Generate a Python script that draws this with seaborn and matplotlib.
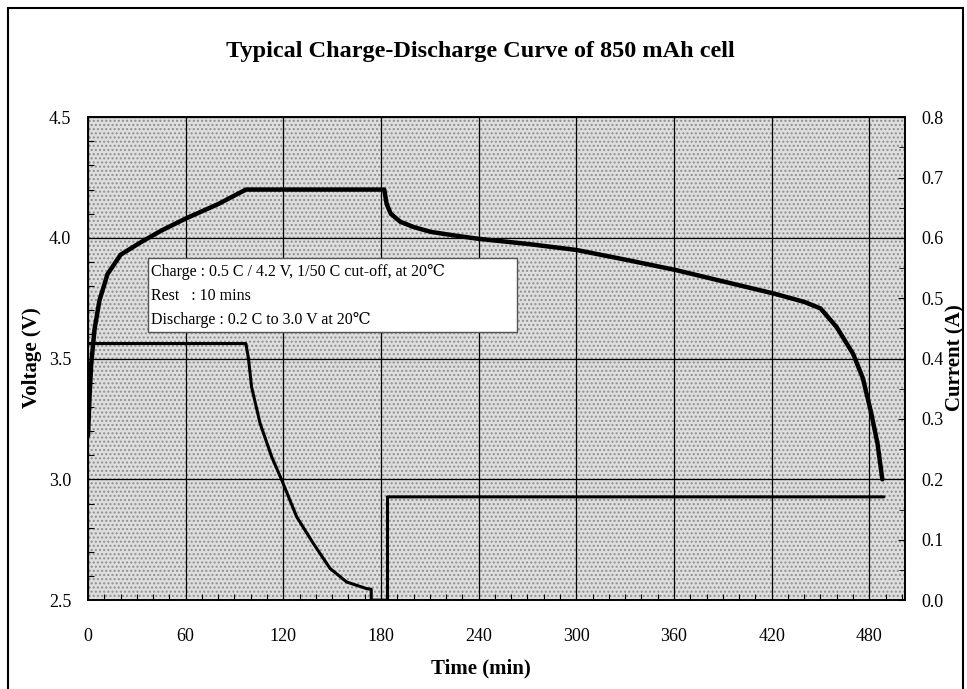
import matplotlib
matplotlib.use("Agg")
import matplotlib.pyplot as plt
import matplotlib.patches as mpatches
from matplotlib.ticker import MultipleLocator, FormatStrFormatter
import pandas as pd
import seaborn as sns

# voltage curve (min, V)
volt_time = [0, 1, 2, 4, 7, 12, 20, 32, 45, 60, 80, 97, 182, 183.5, 186, 191.8, 200,
             210.5, 225, 240, 270, 300, 330, 361, 390, 421, 440, 450, 460, 470, 476,
             481, 485, 488]
volt_vals = [3.18, 3.35, 3.48, 3.62, 3.74, 3.85, 3.93, 3.98, 4.03, 4.08, 4.14, 4.2, 4.2,
             4.14, 4.1, 4.067, 4.045, 4.025, 4.01, 3.996, 3.975, 3.95, 3.91, 3.867, 3.82,
             3.77, 3.735, 3.708, 3.63, 3.52, 3.42, 3.28, 3.15, 3.0]

# current curve (min, A)
curr_time = [0, 97, 98.6, 100.5, 105.7, 112.9, 119.0, 128.2, 138.4, 148.7, 158.9, 171.2,
             174, 174, 184, 184, 489]
curr_vals = [0.425, 0.425, 0.40, 0.353, 0.293, 0.237, 0.199, 0.138, 0.094, 0.0525, 0.030,
             0.019, 0.018, 0.0, 0.0, 0.171, 0.171]

x_ticks = [0, 60, 120, 180, 240, 300, 360, 420, 480]
note_lines = ["Charge : 0.5 C / 4.2 V, 1/50 C cut-off, at 20\u2103",
              "Rest   : 10 mins",
              "Discharge : 0.2 C to 3.0 V at 20\u2103"]

volt_df = pd.DataFrame({"t": volt_time, "v": volt_vals})
curr_df = pd.DataFrame({"t": curr_time, "a": curr_vals})

sns.set_style("ticks")
serif = ["Liberation Serif", "DejaVu Serif", "Noto Sans CJK SC"]
plt.rcParams["font.family"] = serif
plt.rcParams["text.color"] = "black"
plt.rcParams["axes.labelcolor"] = "black"
plt.rcParams["xtick.color"] = "black"
plt.rcParams["ytick.color"] = "black"

fig = plt.figure(figsize=(9.67, 6.89), dpi=100)
ax = fig.add_axes([0.091, 0.129, 0.845, 0.701])
ax2 = ax.twinx()

ax.set_facecolor("#dedede")
ax.add_patch(mpatches.Rectangle((0, 0), 1, 1, transform=ax.transAxes, facecolor="none",
                                edgecolor="#8f8f8f", hatch="....", lw=0, zorder=0))

sns.lineplot(data=volt_df, x="t", y="v", ax=ax, color="black", lw=3.2,
             estimator=None, sort=False, zorder=5)
sns.lineplot(data=curr_df, x="t", y="a", ax=ax2, color="black", lw=2.2,
             estimator=None, sort=False, zorder=5)

ax.set_xlim(0, 502)
ax.set_ylim(2.5, 4.5)
ax2.set_ylim(0, 0.8)
ax.set_xticks(x_ticks)
ax.yaxis.set_major_locator(MultipleLocator(0.5))
ax.yaxis.set_minor_locator(MultipleLocator(0.1))
ax.xaxis.set_minor_locator(MultipleLocator(10))
ax2.yaxis.set_major_locator(MultipleLocator(0.1))
ax2.yaxis.set_minor_locator(MultipleLocator(0.05))
ax.yaxis.set_major_formatter(FormatStrFormatter("%.1f"))
ax2.yaxis.set_major_formatter(FormatStrFormatter("%.1f"))

ax.grid(True, which="major", color="black", lw=0.9)
ax.set_axisbelow(True)
ax.tick_params(axis="both", which="both", direction="in", labelsize=13, colors="black")
ax.tick_params(axis="x", which="major", length=0, pad=20)
ax.tick_params(axis="y", which="major", length=0, pad=12)
ax.tick_params(which="minor", length=4, width=0.8)
ax2.tick_params(axis="y", which="both", direction="in", labelsize=13, pad=12, colors="black")
ax2.tick_params(axis="y", which="major", length=5)
ax2.tick_params(axis="y", which="minor", length=4)
for a in (ax, ax2):
    for s in a.spines.values():
        s.set_color("black")
        s.set_linewidth(1.2)

ax.set_xlabel("")
ax.set_ylabel("")
ax2.set_ylabel("")
fig.text(0.497, 1 - 668 / 689, "Time (min)", ha="center", va="center",
         fontsize=15, fontweight="bold")
fig.text(32 / 967, 1 - 358 / 689, "Voltage (V)", ha="center", va="center",
         rotation=90, fontsize=15, fontweight="bold")
fig.text(955 / 967, 1 - 358 / 689, "Current (A)", ha="center", va="center",
         rotation=90, fontsize=15, fontweight="bold")

fig.text(0.497, 0.925, "Typical Charge-Discharge Curve of 850 mAh cell",
         ha="center", va="center", fontsize=17.5, fontweight="bold")

# note box
ax2.add_patch(mpatches.Rectangle((0.0734, 0.555), 0.4516, 0.153, transform=ax2.transAxes,
                                 facecolor="white", edgecolor="#555555", lw=1, zorder=8))
for y, line in zip([0.680, 0.629, 0.580], note_lines):
    ax2.text(0.077, y, line, transform=ax2.transAxes, ha="left", va="center",
             fontsize=11.5, zorder=9)

# outer frame
fig.patches.append(mpatches.Rectangle((8 / 967, -0.02), 955 / 967, 681 / 689 + 0.02,
                                      transform=fig.transFigure, fill=False,
                                      edgecolor="black", lw=1.5))

fig.savefig("out.png", dpi=100)
